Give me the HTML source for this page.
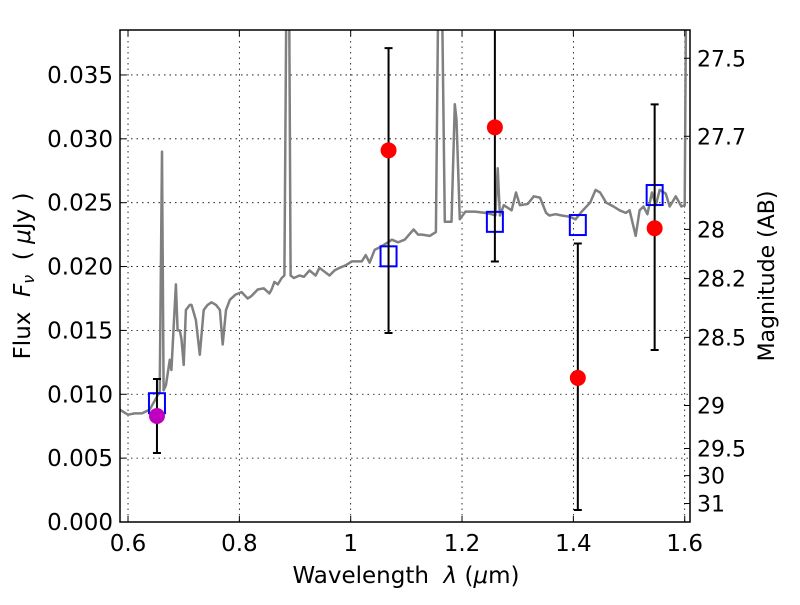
<!DOCTYPE html>
<html><head><meta charset="utf-8"><style>
body{margin:0;background:#fff}
svg text{font-family:"DejaVu Sans","Liberation Sans",sans-serif;fill:#000}
</style></head><body>
<svg id="chart" width="800" height="600" viewBox="0 0 800 600" xmlns="http://www.w3.org/2000/svg">
<defs><clipPath id="clip"><rect x="120" y="30" width="570" height="492"/></clipPath></defs>
<g id="grid"></g>
<g id="series" clip-path="url(#clip)"></g>
<rect x="120" y="30" width="570" height="492" fill="none" stroke="#000" stroke-width="1.5"/>
<g id="axes"></g>
<text x="406" y="583" font-size="23" text-anchor="middle" xml:space="preserve">Wavelength  <tspan font-style="italic">λ</tspan> (<tspan font-style="italic">μ</tspan>m)</text>
<text transform="translate(30,276) rotate(-90)" font-size="23" text-anchor="middle" xml:space="preserve">Flux  <tspan font-style="italic">F<tspan font-size="16" dy="4">ν</tspan></tspan><tspan dy="-4">  ( </tspan><tspan font-style="italic">μ</tspan>Jy )</text>
<text transform="translate(774,276) rotate(-90)" font-size="22" text-anchor="middle">Magnitude (AB)</text>
</svg>
<script>
const specWave=[0.585,0.600,0.612,0.625,0.639,0.657,0.661,0.664,0.668,0.675,0.678,0.686,0.689,0.693,0.696,0.700,0.704,0.711,0.714,0.722,0.729,0.736,0.743,0.750,0.758,0.765,0.770,0.776,0.783,0.793,0.804,0.815,0.822,0.833,0.844,0.854,0.858,0.863,0.869,0.876,0.881,0.885,0.889,0.892,0.898,0.908,0.916,0.926,0.937,0.944,0.953,0.962,0.971,0.980,0.991,1.002,1.013,1.020,1.027,1.034,1.043,1.052,1.067,1.074,1.085,1.097,1.113,1.121,1.128,1.142,1.153,1.158,1.163,1.169,1.172,1.181,1.187,1.190,1.196,1.206,1.223,1.242,1.253,1.260,1.264,1.268,1.275,1.289,1.297,1.304,1.318,1.329,1.340,1.351,1.357,1.368,1.379,1.393,1.404,1.415,1.430,1.440,1.448,1.459,1.472,1.483,1.494,1.501,1.512,1.519,1.526,1.533,1.541,1.548,1.555,1.566,1.573,1.584,1.594,1.600,1.603,1.609];
const specFlux=[0.0088,0.0084,0.0085,0.0085,0.0088,0.0102,0.0290,0.0103,0.0107,0.0127,0.0119,0.0186,0.0150,0.0150,0.0143,0.0123,0.0166,0.0170,0.0170,0.0158,0.0131,0.0166,0.0170,0.0172,0.0170,0.0166,0.0139,0.0166,0.0174,0.0178,0.0180,0.0175,0.0177,0.0182,0.0183,0.0179,0.0182,0.0188,0.0186,0.0191,0.0193,0.0450,0.0450,0.0193,0.0191,0.0193,0.0192,0.0197,0.0193,0.0199,0.0196,0.0193,0.0197,0.0199,0.0201,0.0204,0.0204,0.0204,0.0209,0.0203,0.0213,0.0215,0.0219,0.0221,0.0219,0.0221,0.0229,0.0225,0.0225,0.0224,0.0227,0.0450,0.0450,0.0235,0.0235,0.0235,0.0327,0.0315,0.0237,0.0243,0.0243,0.0242,0.0241,0.0240,0.0277,0.0240,0.0248,0.0244,0.0258,0.0248,0.0249,0.0255,0.0254,0.0242,0.0240,0.0241,0.0240,0.0239,0.0237,0.0243,0.0250,0.0260,0.0258,0.0250,0.0247,0.0244,0.0242,0.0244,0.0224,0.0244,0.0247,0.0241,0.0258,0.0248,0.0260,0.0257,0.0247,0.0255,0.0247,0.0248,0.0450,0.0450];
const photWave=[0.652,1.068,1.259,1.408,1.546];
const photFlux=[0.0083,0.0291,0.0309,0.01128,0.0230];
const errLow=[0.0054,0.0148,0.0204,0.00094,0.01347];
const errHigh=[0.0112,0.0371,0.0410,0.0218,0.0327];
const modelFlux=[0.0093,0.0208,0.0235,0.02325,0.0256];
const photColors=["#bf00bf","red","red","red","red"];
const xTicks=[0.6,0.8,1,1.2,1.4,1.6];
const xTickLabels=["0.6","0.8","1","1.2","1.4","1.6"];
const yTicks=[0,0.005,0.010,0.015,0.020,0.025,0.030,0.035];
const yTickLabels=["0.000","0.005","0.010","0.015","0.020","0.025","0.030","0.035"];
const magTicks=[27.5,27.7,28,28.2,28.5,29,29.5,30,31];
const magTickLabels=["27.5","27.7","28","28.2","28.5","29","29.5","30","31"];

const X0=120,X1=690,Y0=522,Y1=30;
const xmin=0.5856,xmax=1.6095,ymin=0,ymax=0.03852;
const sx=v=>X0+(v-xmin)/(xmax-xmin)*(X1-X0);
const sy=v=>Y0-(v-ymin)/(ymax-ymin)*(Y0-Y1);
const NS="http://www.w3.org/2000/svg";
function mk(tag,attrs,parent){const e=document.createElementNS(NS,tag);for(const k in attrs)e.setAttribute(k,attrs[k]);parent.appendChild(e);return e;}
const grid=document.getElementById('grid'),ser=document.getElementById('series'),ax=document.getElementById('axes');
xTicks.forEach((t,i)=>{const x=sx(t);
 const g=mk('line',{x1:x,x2:x,y1:Y1,y2:Y0,stroke:'#000','stroke-width':0.8,'stroke-dasharray':'1.5,4'},grid);
 
 
 mk('line',{x1:x,x2:x,y1:Y0,y2:Y0-6,stroke:'#000'},ax);
 mk('line',{x1:x,x2:x,y1:Y1,y2:Y1+6,stroke:'#000'},ax);
 const tx=mk('text',{x:x,y:Y0+29,'font-size':23,'text-anchor':'middle'},ax);tx.textContent=xTickLabels[i];
 
 
});
yTicks.forEach((t,i)=>{const y=sy(t);
 const g=mk('line',{x1:X0,x2:X1,y1:y,y2:y,stroke:'#000','stroke-width':0.8,'stroke-dasharray':'1.5,4'},grid);
 
 
 mk('line',{x1:X0,x2:X0+6,y1:y,y2:y,stroke:'#000'},ax);
 const tx=mk('text',{x:X0-7,y:y+8,'font-size':23,'text-anchor':'end'},ax);tx.textContent=yTickLabels[i];
 
 
});
magTicks.forEach((m,i)=>{const y=sy(Math.pow(10,(23.9-m)/2.5));
 mk('line',{x1:X1,x2:X1-6,y1:y,y2:y,stroke:'#000'},ax);
 const tx=mk('text',{x:X1+7,y:y+8,'font-size':22},ax);tx.textContent=magTickLabels[i];
 
 
});
const pts=specWave.map((w,i)=>sx(w).toFixed(1)+','+sy(specFlux[i]).toFixed(1)).join(' ');
const pl=mk('polyline',{points:pts,fill:'none',stroke:'#808080','stroke-width':2.5,'stroke-linejoin':'round'},ser);


photWave.forEach((w,i)=>{const x=sx(w);
 const s=mk('rect',{x:x-8,y:sy(modelFlux[i])-10,width:16,height:20,fill:'none',stroke:'#0000ff','stroke-width':2},ser);
 
 
});
photWave.forEach((w,i)=>{const x=sx(w);
 const e=mk('path',{d:`M${x},${sy(errLow[i])}V${sy(errHigh[i])}M${x-4},${sy(errLow[i])}h8M${x-4},${sy(errHigh[i])}h8`,stroke:'#000','stroke-width':2,fill:'none'},ser);
 
 
 const c=mk('circle',{cx:x,cy:sy(photFlux[i]),r:8,fill:photColors[i]},ser);
 
 
});
</script>
</body></html>
